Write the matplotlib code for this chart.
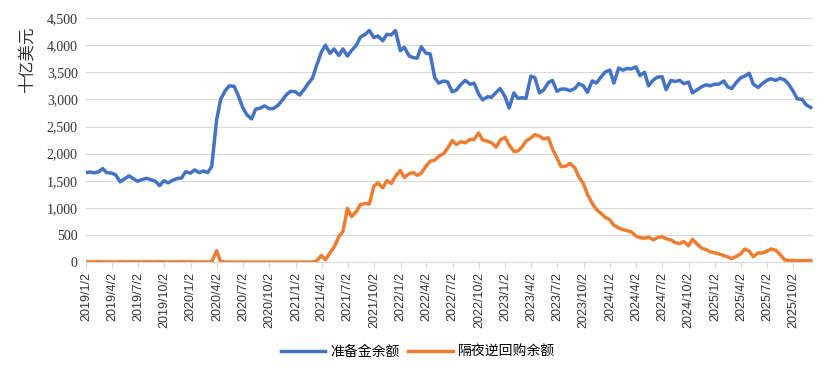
import numpy as np
import pandas as pd
import matplotlib
matplotlib.use("Agg")
import matplotlib.pyplot as plt

plt.rcParams['font.family'] = ['Noto Sans CJK SC', 'DejaVu Sans']

# semi-monthly observations (1st and 15th), 2019/1 - 2025/12
dates = pd.date_range("2019-01-01", "2025-12-01", freq="SMS")

# 准备金余额, 十亿美元
reserves = [
    # 2019
    1650, 1660, 1645, 1665, 1725, 1650, 1640, 1610, 1480, 1530, 1590, 1540,
    1490, 1520, 1545, 1520, 1490, 1410, 1500, 1460, 1510, 1540, 1550, 1665,
    # 2020
    1640, 1700, 1650, 1680, 1650, 1760, 2620, 3000, 3160, 3250, 3240, 3080,
    2850, 2720, 2640, 2820, 2840, 2880, 2830, 2830, 2890, 2980, 3090, 3150,
    # 2021
    3140, 3080, 3190, 3300, 3390, 3620, 3870, 4000, 3850, 3930, 3810, 3930,
    3800, 3900, 4000, 4150, 4200, 4270, 4140, 4170, 4080, 4200, 4190, 4270,
    # 2022
    3900, 3960, 3800, 3770, 3760, 3970, 3850, 3840, 3400, 3300, 3340, 3320,
    3140, 3170, 3280, 3350, 3280, 3300, 3100, 2990, 3050, 3040, 3130, 3200,
    # 2023
    3050, 2840, 3120, 3020, 3030, 3020, 3430, 3400, 3120, 3170, 3310, 3350,
    3150, 3190, 3190, 3160, 3200, 3290, 3250, 3130, 3340, 3300, 3410, 3500,
    # 2024
    3540, 3300, 3580, 3540, 3570, 3560, 3600, 3440, 3500, 3250, 3360, 3410,
    3420, 3180, 3350, 3330, 3350, 3290, 3320, 3120, 3180, 3230, 3270, 3250,
    # 2025
    3280, 3280, 3340, 3230, 3200, 3300, 3400, 3430, 3480, 3280, 3220, 3290,
    3350, 3380, 3350, 3390, 3360, 3280, 3150, 3010, 3000, 2900, 2850,
]

# 隔夜逆回购余额, 十亿美元
on_rrp = [
    # 2019
    5, 2, 3, 8, 2, 4, 3, 1, 5, 3, 2, 8,
    4, 2, 3, 5, 2, 6, 3, 1, 4, 2, 5, 3,
    # 2020
    5, 2, 1, 3, 2, 5, 210, 10, 1, 0, 0, 0,
    0, 0, 0, 0, 0, 0, 0, 0, 0, 0, 0, 0,
    # 2021
    0, 0, 0, 0, 0, 20, 120, 40, 170, 270, 470, 560,
    990, 840, 930, 1060, 1080, 1070, 1400, 1460, 1370, 1500, 1450, 1580,
    # 2022
    1690, 1560, 1630, 1650, 1600, 1640, 1770, 1860, 1880, 1950, 2000, 2100,
    2240, 2170, 2220, 2200, 2260, 2260, 2380, 2250, 2230, 2200, 2120, 2250,
    # 2023
    2300, 2160, 2040, 2050, 2120, 2230, 2290, 2350, 2320, 2270, 2290, 2090,
    1920, 1760, 1770, 1820, 1740, 1570, 1450, 1250, 1080, 970, 900, 830,
    # 2024
    780, 680, 630, 600, 580, 560, 480, 450, 440, 460, 410, 450,
    470, 430, 410, 360, 340, 380, 300, 420, 330, 260, 230, 190,
    # 2025
    170, 150, 120, 95, 65, 100, 150, 240, 200, 100, 170, 165,
    200, 240, 220, 150, 40, 30, 30, 22, 25, 30, 30,
]

# quarterly ticks on the 2nd: 2019/1/2 ... 2025/10/2
tick_dates = pd.date_range("2019-01-01", "2025-10-01", freq="3MS") + pd.Timedelta(days=1)
tick_labels = [f"{d.year}/{d.month}/{d.day}" for d in tick_dates]

fig = plt.figure(figsize=(8.31, 3.76), dpi=100)
ax = fig.add_axes([0.1035, 0.303, 0.8745, 0.649])

ax.plot(dates, reserves, color="#4472C4", lw=2.5, label="准备金余额", solid_joinstyle="round")
ax.plot(dates, on_rrp, color="#ED7D31", lw=2.5, label="隔夜逆回购余额", solid_joinstyle="round")

ax.set_ylim(0, 4500)
ax.set_yticks(np.arange(0, 4501, 500))
ax.set_yticklabels([f"{v:,}" for v in range(0, 4501, 500)],
                   family=["Liberation Serif", "DejaVu Serif"], fontsize=10, color="#333333")
ax.set_xlim(pd.Timestamp("2019-01-02"), pd.Timestamp("2025-12-08"))
ax.set_xticks(tick_dates)
ax.set_xticklabels(tick_labels, rotation=90, family=["Liberation Sans", "DejaVu Sans"],
                   fontsize=9, color="#333333")

ax.grid(axis="y", color="#D9D9D9", lw=0.8)
ax.set_axisbelow(True)
for s in ["top", "right", "left"]:
    ax.spines[s].set_visible(False)
ax.spines["bottom"].set_color("#D9D9D9")
ax.tick_params(axis="y", length=0, pad=6)
ax.tick_params(axis="x", length=4, color="#D9D9D9", pad=3)

fig.text(0.022, 0.93, "十亿美元", rotation=90, va="top", ha="left", fontsize=12, color="#333333")

fig.legend(loc="center", bbox_to_anchor=(0.503, 0.064), ncol=2, frameon=False,
           fontsize=10, handlelength=3.2, handletextpad=0.4, columnspacing=0.6)

fig.savefig("out.png", dpi=100)
